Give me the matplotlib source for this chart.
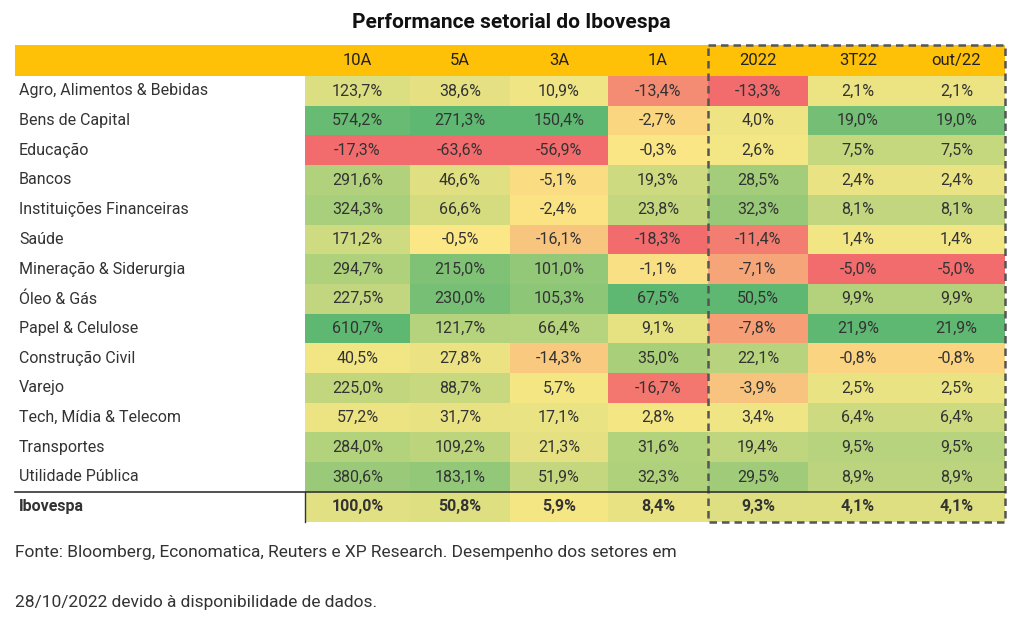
import numpy as np
import matplotlib
matplotlib.use("Agg")
import matplotlib.pyplot as plt
from matplotlib.patches import Rectangle
from matplotlib.colors import to_rgb

sectors = ["Agro, Alimentos & Bebidas", "Bens de Capital", "Educação", "Bancos",
           "Instituições Financeiras", "Saúde", "Mineração & Siderurgia", "Óleo & Gás",
           "Papel & Celulose", "Construção Civil", "Varejo", "Tech, Mídia & Telecom",
           "Transportes", "Utilidade Pública", "Ibovespa"]
columns = ["10A", "5A", "3A", "1A", "2022", "3T22", "out/22"]
v10A = [123.7, 574.2, -17.3, 291.6, 324.3, 171.2, 294.7, 227.5, 610.7, 40.5, 225.0, 57.2, 284.0, 380.6, 100.0]
v5A = [38.6, 271.3, -63.6, 46.6, 66.6, -0.5, 215.0, 230.0, 121.7, 27.8, 88.7, 31.7, 109.2, 183.1, 50.8]
v3A = [10.9, 150.4, -56.9, -5.1, -2.4, -16.1, 101.0, 105.3, 66.4, -14.3, 5.7, 17.1, 21.3, 51.9, 5.9]
v1A = [-13.4, -2.7, -0.3, 19.3, 23.8, -18.3, -1.1, 67.5, 9.1, 35.0, -16.7, 2.8, 31.6, 32.3, 8.4]
v2022 = [-13.3, 4.0, 2.6, 28.5, 32.3, -11.4, -7.1, 50.5, -7.8, 22.1, -3.9, 3.4, 19.4, 29.5, 9.3]
v3T22 = [2.1, 19.0, 7.5, 2.4, 8.1, 1.4, -5.0, 9.9, 21.9, -0.8, 2.5, 6.4, 9.5, 8.9, 4.1]
vout22 = [2.1, 19.0, 7.5, 2.4, 8.1, 1.4, -5.0, 9.9, 21.9, -0.8, 2.5, 6.4, 9.5, 8.9, 4.1]
data = np.array([v10A, v5A, v3A, v1A, v2022, v3T22, vout22]).T

RED, YEL, GRN = np.array(to_rgb("#F26B6D")), np.array(to_rgb("#FBE885")), np.array(to_rgb("#5FB872"))

def color(v, col):
    lo, mid, hi = col.min(), 0.0, col.max()
    if v <= mid:
        t = (v - lo) / (mid - lo) if mid > lo else 1
        return RED + (YEL - RED) * t
    t = (v - mid) / (hi - mid) if hi > mid else 0
    return YEL + (GRN - YEL) * t

fig = plt.figure(figsize=(10.22, 6.28), dpi=100)
ax = fig.add_axes([0, 0, 1, 1])
ax.set_xlim(0, 1022); ax.set_ylim(628, 0); ax.axis("off")
FONT = "Roboto"
TXT = "#333333"

xe = [15, 305, 410, 510, 608, 708, 808, 908, 1005]
y0, hh, rh = 45, 31, 29.7

ax.text(511, 22, "Performance setorial do Ibovespa", ha="center", va="center",
        fontsize=15, fontweight="bold", family=FONT, color="#111111")
ax.add_patch(Rectangle((xe[0], y0), xe[-1] - xe[0], hh, color="#FFC107", lw=0))
for j, c in enumerate(columns):
    ax.text((xe[j + 1] + xe[j + 2]) / 2, y0 + hh / 2, c, ha="center", va="center",
            fontsize=12, family=FONT, color="#222222")

for i, s in enumerate(sectors):
    y = y0 + hh + i * rh
    bold = s == "Ibovespa"
    ax.text(xe[0] + 4, y + rh / 2, s, ha="left", va="center", fontsize=11.5,
            family=FONT, fontweight="bold" if bold else "normal", color=TXT)
    for j in range(len(columns)):
        v = data[i, j]
        ax.add_patch(Rectangle((xe[j + 1], y), xe[j + 2] - xe[j + 1], rh,
                               color=color(v, data[:, j]), lw=0))
        ax.text((xe[j + 1] + xe[j + 2]) / 2, y + rh / 2,
                f"{v:.1f}%".replace(".", ","), ha="center", va="center",
                fontsize=11.5, family=FONT, fontweight="bold" if bold else "normal",
                color=TXT)

ybot = y0 + hh + len(sectors) * rh
yib = ybot - rh
ax.plot([xe[0], xe[-1]], [yib, yib], color="#333333", lw=1.2)
ax.plot([xe[1], xe[1]], [yib, ybot], color="#333333", lw=1.0)
ax.add_patch(Rectangle((xe[5], y0), xe[-1] - xe[5], ybot - y0, fill=False,
                       ec="#555555", lw=1.8, ls=(0, (3, 2))))

ax.text(15, 553, "Fonte: Bloomberg, Economatica, Reuters e XP Research. Desempenho dos setores em",
        ha="left", va="center", fontsize=12.5, family=FONT, color=TXT)
ax.text(15, 603, "28/10/2022 devido à disponibilidade de dados.",
        ha="left", va="center", fontsize=12.5, family=FONT, color=TXT)

fig.savefig("out.png", dpi=100, facecolor="white")
